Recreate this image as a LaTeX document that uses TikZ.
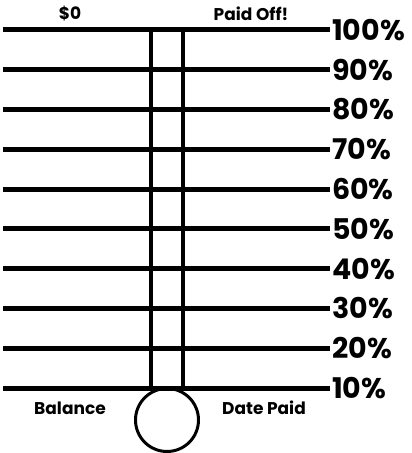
\documentclass[tikz,border=0pt]{standalone}
\usepackage{fontspec}
\setmainfont{Poppins}
\usetikzlibrary{positioning}

\begin{document}
\begin{tikzpicture}[
    x=1pt, y=-1pt,
    bar/.style={line width=5pt},
    tube/.style={line width=3.5pt},
    pct/.style={anchor=west, inner sep=0pt, font=\fontsize{28.5}{28.5}\selectfont\bfseries},
    caption/.style={inner sep=0pt, font=\fontsize{17}{17}\selectfont\bfseries}
]
\useasboundingbox (0,0) rectangle (412,453);
% scale lines with their percentages
\foreach \i in {1,...,10} {
    \pgfmathsetmacro{\yy}{388-(\i-1)*39.8}
    \draw[bar] (3,\yy) -- (330,\yy);
    \node[pct] (p\i) at (332,\yy) {\i0\%};
}
% thermometer
\node[circle, draw, line width=3pt, minimum size=63pt, inner sep=0pt] (bulb) at (167,420) {};
\coordinate (tl) at (151,30);
\coordinate (tr) at (183,30);
\draw[tube] (tl) -- (tl |- bulb.north) -- ++(0,4);
\draw[tube] (tr) -- (tr |- bulb.north) -- ++(0,4);
% captions
\node[caption] (zero)    at (70,14)  {\$0};
\node[caption] (paidoff) at (251,14) {Paid Off!};
\node[caption] (balance) at (70,408) {Balance};
\node[caption] (date)    at (264,408) {Date Paid};
\end{tikzpicture}
\end{document}
